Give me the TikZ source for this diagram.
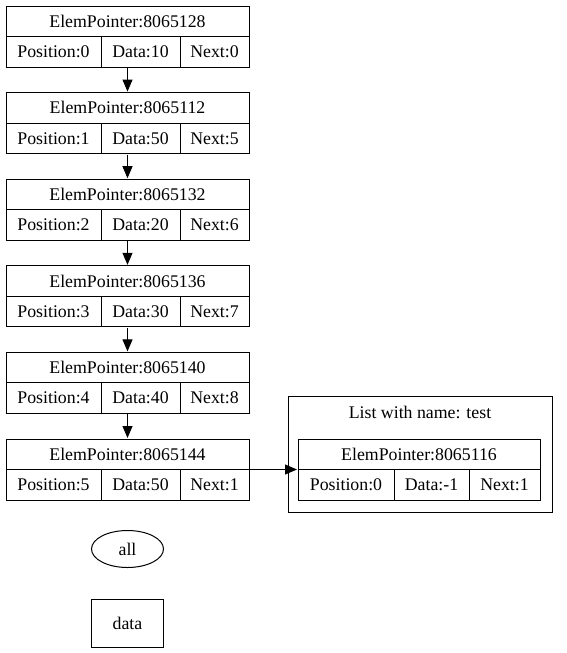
\documentclass[tikz,border=0pt]{standalone}
\usepackage{fontspec}
\setmainfont{Liberation Serif}
\usetikzlibrary{arrows.meta,shapes.geometric,fit}

\begin{document}
\begin{tikzpicture}[x=1pt,y=-1pt,line width=1pt,
  every node/.style={font=\fontsize{17.8}{20}\selectfont,inner sep=0pt},
  cell/.style={draw,minimum height=30.5pt},
  head/.style={cell,minimum width=243pt},
  poscell/.style={cell,minimum width=95pt},
  datacell/.style={cell,minimum width=79pt},
  nextcell/.style={cell,minimum width=69pt},
  record/.style={inner sep=0pt},
  link/.style={-{Triangle[length=12pt,width=10pt]}}]
\useasboundingbox (0,0) rectangle (567,653);

% records of the list, top to bottom
\node[head] (e0h) at (127.5,21.25) {ElemPointer:8065128};
\node[poscell] (e0p) at (53.5,51.75) {Position:0};
\node[datacell] (e0d) at (140.5,51.75) {Data:10};
\node[nextcell] (e0n) at (214.5,51.75) {Next:0};
\node[record,fit=(e0h)(e0p)(e0n)] (e0) {};

\node[head] (e1h) at (127.5,107.85) {ElemPointer:8065112};
\node[poscell] (e1p) at (53.5,138.35) {Position:1};
\node[datacell] (e1d) at (140.5,138.35) {Data:50};
\node[nextcell] (e1n) at (214.5,138.35) {Next:5};
\node[record,fit=(e1h)(e1p)(e1n)] (e1) {};

\node[head] (e2h) at (127.5,194.45) {ElemPointer:8065132};
\node[poscell] (e2p) at (53.5,224.95) {Position:2};
\node[datacell] (e2d) at (140.5,224.95) {Data:20};
\node[nextcell] (e2n) at (214.5,224.95) {Next:6};
\node[record,fit=(e2h)(e2p)(e2n)] (e2) {};

\node[head] (e3h) at (127.5,281.05) {ElemPointer:8065136};
\node[poscell] (e3p) at (53.5,311.55) {Position:3};
\node[datacell] (e3d) at (140.5,311.55) {Data:30};
\node[nextcell] (e3n) at (214.5,311.55) {Next:7};
\node[record,fit=(e3h)(e3p)(e3n)] (e3) {};

\node[head] (e4h) at (127.5,367.65) {ElemPointer:8065140};
\node[poscell] (e4p) at (53.5,398.15) {Position:4};
\node[datacell] (e4d) at (140.5,398.15) {Data:40};
\node[nextcell] (e4n) at (214.5,398.15) {Next:8};
\node[record,fit=(e4h)(e4p)(e4n)] (e4) {};

\node[head] (e5h) at (127.5,454.25) {ElemPointer:8065144};
\node[poscell] (e5p) at (53.5,484.75) {Position:5};
\node[datacell] (e5d) at (140.5,484.75) {Data:50};
\node[nextcell] (e5n) at (214.5,484.75) {Next:1};
\node[record,fit=(e5h)(e5p)(e5n)] (e5) {};

%---------------------------------

% the cluster on the right
\draw (288,396) rectangle (552,512);
\node (title) at (420,412) {List with name: test};

\node[head,minimum width=242pt] (t0h) at (419,454.25) {ElemPointer:8065116};
\node[poscell,minimum width=96pt] (t0p) at (346,484.75) {Position:0};
\node[datacell,minimum width=75pt] (t0d) at (431.5,484.75) {Data:-1};
\node[nextcell,minimum width=71pt] (t0n) at (504.5,484.75) {Next:1};
\node[record,fit=(t0h)(t0p)(t0n)] (t0) {};

%---------------------------------

\node[draw,ellipse,minimum width=72pt,minimum height=37pt] (all) at (127.5,549) {all};
\node[draw,minimum width=72pt,minimum height=48pt] (data) at (127.5,623) {data};

%---------------------------------

\draw[link] (e0) -- (e1);
\draw[link] (e1) -- (e2);
\draw[link] (e2) -- (e3);
\draw[link] (e3) -- (e4);
\draw[link] (e4) -- (e5);
\draw[link] (e5) -- (t0);
\end{tikzpicture}
\end{document}
